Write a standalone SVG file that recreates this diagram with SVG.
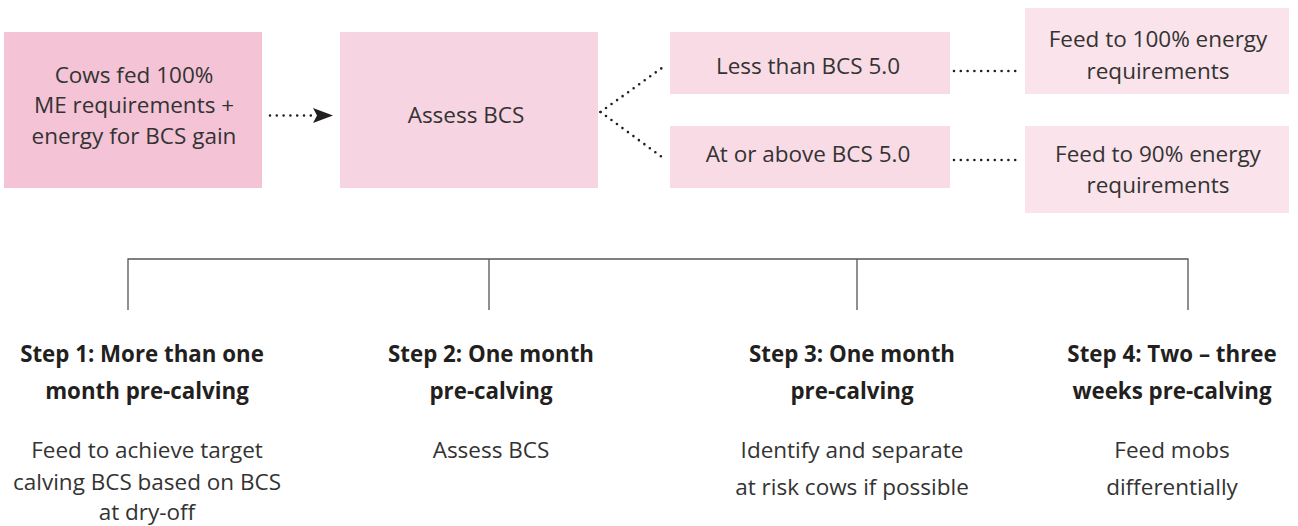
<svg xmlns="http://www.w3.org/2000/svg" width="1298" height="526" viewBox="0 0 1298 526">
  <style>
    text { font-family: "Open Sans", "Noto Sans", sans-serif; font-size: 22.5px; fill: #333333; text-anchor: middle; }
    .title { font-weight: bold; fill: #231f20; font-size: 22.3px; }
    .dots { fill: none; stroke: #231f20; stroke-width: 2.6; stroke-linecap: round; stroke-dasharray: 0 6.8; }
    .bracket { fill: none; stroke: #555555; stroke-width: 1.3; }
  </style>
  <rect width="1298" height="526" fill="#ffffff"/>

  <!-- top row: feeding decision flow -->
  <g id="node-cows-fed">
    <rect x="4" y="32" width="258" height="156" fill="#f4c3d6"/>
    <text x="134" y="83">Cows fed 100%</text>
    <text x="134" y="113">ME requirements +</text>
    <text x="134" y="144">energy for BCS gain</text>
  </g>
  <g id="node-assess">
    <rect x="340" y="32" width="258" height="156" fill="#f7d4e1"/>
    <text x="466" y="123">Assess BCS</text>
  </g>
  <g id="node-less">
    <rect x="670" y="32" width="280" height="62" fill="#f9dbe6"/>
    <text x="808" y="74">Less than BCS 5.0</text>
  </g>
  <g id="node-above">
    <rect x="670" y="126" width="280" height="62" fill="#f9dbe6"/>
    <text x="808" y="162">At or above BCS 5.0</text>
  </g>
  <g id="node-feed-100">
    <rect x="1025" y="8" width="264" height="86" fill="#fae3ea"/>
    <text x="1158" y="47">Feed to 100% energy</text>
    <text x="1158" y="79">requirements</text>
  </g>
  <g id="node-feed-90">
    <rect x="1025" y="126" width="264" height="87" fill="#fae3ea"/>
    <text x="1158" y="162">Feed to 90% energy</text>
    <text x="1158" y="193">requirements</text>
  </g>

  <!-- dotted connectors -->
  <g id="connectors">
    <line class="dots" x1="270" y1="115.5" x2="312" y2="115.5"/>
    <path d="M313,108 L333,115.5 L313,123 L317,115.5 Z" fill="#231f20"/>
    <line class="dots" x1="600.5" y1="112" x2="666" y2="65"/>
    <line class="dots" x1="600.5" y1="112" x2="666" y2="160"/>
    <line class="dots" x1="954" y1="71" x2="1022" y2="71"/>
    <line class="dots" x1="954" y1="160" x2="1022" y2="160"/>
  </g>

  <!-- timeline bracket -->
  <g id="timeline">
    <path class="bracket" d="M128,310 V259 H1188 V310 M489,259 V310 M857,259 V310"/>
  </g>

  <!-- steps -->
  <g id="step-1">
    <text class="title" x="142" y="362">Step 1: More than one</text>
    <text class="title" x="147" y="399">month pre-calving</text>
    <text x="147" y="458">Feed to achieve target</text>
    <text x="147" y="490">calving BCS based on BCS</text>
    <text x="147" y="520">at dry-off</text>
  </g>
  <g id="step-2">
    <text class="title" x="491" y="362">Step 2: One month</text>
    <text class="title" x="491" y="399">pre-calving</text>
    <text x="491" y="458">Assess BCS</text>
  </g>
  <g id="step-3">
    <text class="title" x="852" y="362">Step 3: One month</text>
    <text class="title" x="852" y="399">pre-calving</text>
    <text x="852" y="458">Identify and separate</text>
    <text x="852" y="495">at risk cows if possible</text>
  </g>
  <g id="step-4">
    <text class="title" x="1172" y="362">Step 4: Two – three</text>
    <text class="title" x="1172" y="399">weeks pre-calving</text>
    <text x="1172" y="458">Feed mobs</text>
    <text x="1172" y="495">differentially</text>
  </g>
</svg>
